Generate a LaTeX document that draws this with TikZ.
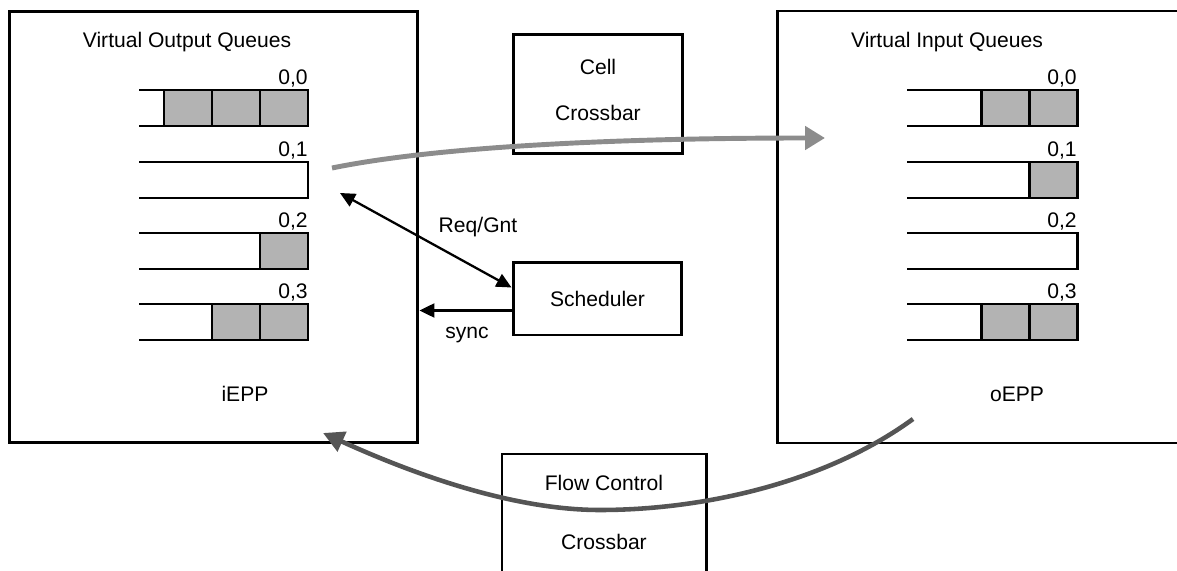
\documentclass[tikz,border=0pt]{standalone}
\usepackage{fontspec}
\setmainfont{Liberation Sans}
\usepackage{tikz}
\usetikzlibrary{arrows.meta}
\usetikzlibrary{calc}
\definecolor{cellgray}{HTML}{B3B3B3}
\definecolor{datagray}{HTML}{8C8C8C}
\definecolor{fcgray}{HTML}{555555}
\tikzstyle{frame} = [draw, line width = 1.7pt]
\tikzstyle{block} = [draw, rectangle, line width = 1.7pt, align = center, inner sep = 0pt]
\tikzstyle{queue} = [line width = 1.7pt]
\tikzstyle{cell} = [draw, fill = cellgray, line width = 1.7pt]
\tikzstyle{txt} = [inner sep = 0pt]
\tikzstyle{sig} = [line width = 1.3pt, -{Triangle[length = 0.3cm, width = 0.28cm]}]
\tikzstyle{dsig} = [line width = 1.3pt, {Triangle[length = 0.3cm, width = 0.28cm]}-{Triangle[length = 0.3cm, width = 0.28cm]}]
\tikzstyle{dataflow} = [draw = datagray, line width = 2.8pt, -{Triangle[length = 0.4cm, width = 0.46cm]}]
\tikzstyle{fcflow} = [draw = fcgray, line width = 2.6pt, -{Triangle[length = 0.42cm, width = 0.42cm]}]

\begin{document}
\begin{tikzpicture}[x = 0.02cm, y = -0.02cm, font = \fontsize{12}{14}\selectfont]
	\useasboundingbox (0,0) rectangle (1177,571);

	% iEPP
	\node[block, minimum width = 8.18cm, minimum height = 8.64cm] (inbox) at (213.5,227) {};
	\node[txt] (voq) at (187,42) {Virtual Output Queues};
	\node[txt] (iepp) at (245,394) {iEPP};
	\foreach \i/\y/\n in {0/90/3, 1/162/0, 2/233/1, 3/304/2} {
		\draw[queue] (139,\y) -| (308,\y+36) -- (139,\y+36);
		\ifnum\n>0
			\foreach \k in {1,...,\n}
				\draw[cell] ({308-48*\k},\y) rectangle ++(48,36);
		\fi
		\node[txt, anchor = base east] (ol\i) at (308,\y-5.5) {0,\i};
	}

	% oEPP
	\draw[frame] (1177,11) -| (777,443) -- (1177,443);
	\node[txt] (viq) at (947,42) {Virtual Input Queues};
	\node[txt] (oepp) at (1017,394) {oEPP};
	\foreach \i/\y/\n in {0/90/2, 1/162/1, 2/233/0, 3/304/2} {
		\draw[queue] (907,\y) -| (1077,\y+36) -- (907,\y+36);
		\ifnum\n>0
			\foreach \k in {1,...,\n}
				\draw[cell] ({1077-48*\k},\y) rectangle ++(48,36);
		\fi
		\node[txt, anchor = base east] (il\i) at (1077,\y-5.5) {0,\i};
	}

	% crossbars and scheduler
	\node[block, minimum width = 3.4cm, minimum height = 2.4cm] (cellxbar) at (598,94) {};
	\node[txt] (cell) at (598,67) {Cell};
	\node[txt] (cellx) at (598,113) {Crossbar};
	\node[block, minimum width = 3.38cm, minimum height = 1.46cm] (sched) at (597.5,298.5) {Scheduler};
	\draw[frame] (502,571) |- (706,454) -- (706,571);
	\node[txt] (fc) at (604,483) {Flow Control};
	\node[txt] (fcxbar) at (604,542) {Crossbar};

	% request / grant and sync
	\coordinate (rgend) at (340,193);
	\draw[dsig] (rgend) -- ([yshift = 0.22cm]sched.west);
	\node[txt] (rg) at (478,227) {Req/Gnt};
	\coordinate (syncsrc) at ([yshift = -0.24cm]sched.west);
	\draw[sig] (syncsrc) -- (syncsrc -| inbox.east);
	\node[txt] (sync) at (467,335) {sync};

	% cells through the crossbar
	\coordinate (datasrc) at (332,168);
	\coordinate (datadst) at (825,138);
	\draw[dataflow] (datasrc) .. controls (430,148) and (600,138) .. (datadst);

	% flow control back to iEPP
	\coordinate (fcsrc) at (913,419);
	\coordinate (fcmid) at (600,510);
	\coordinate (fcdst) at (323,433);
	\draw[fcflow] (fcsrc) .. controls (824,484) and (700,510) .. (fcmid)
		.. controls (510,510) and (409,472) .. (fcdst);

\end{tikzpicture}
\end{document}
